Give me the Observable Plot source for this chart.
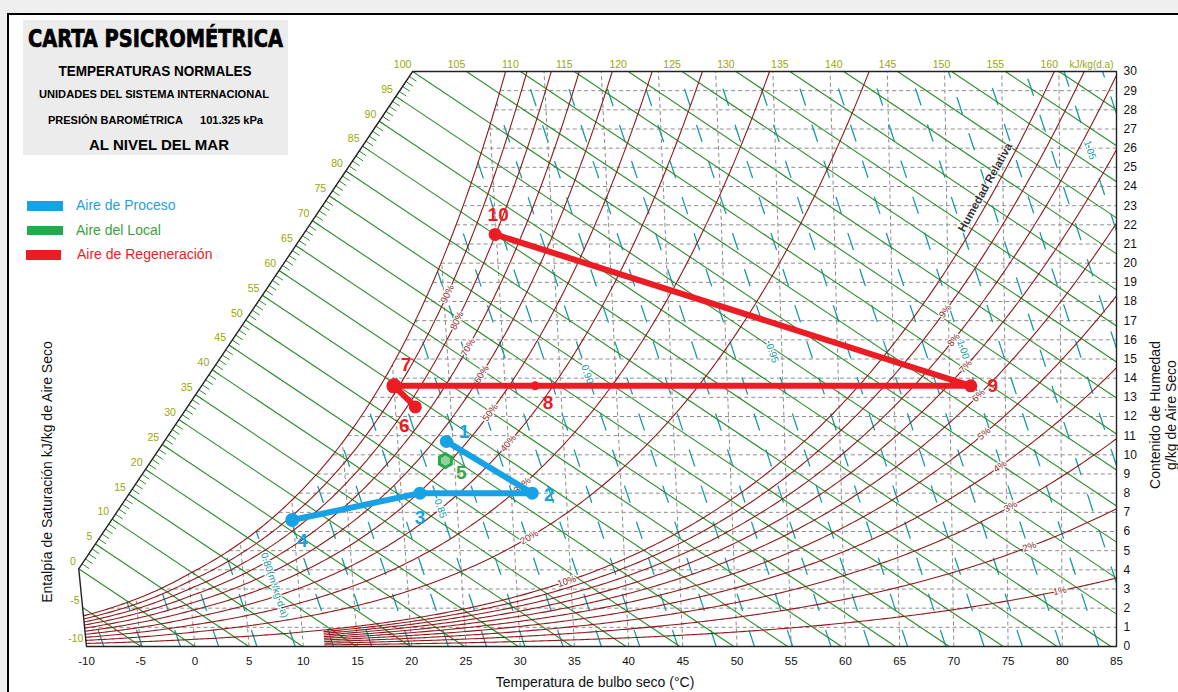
<!DOCTYPE html>
<html>
<head>
<meta charset="utf-8">
<script src="https://cdn.jsdelivr.net/npm/d3@7"></script>
<script src="https://cdn.jsdelivr.net/npm/@observablehq/plot@0.6"></script>
<style>
  body { margin: 0; background: #efefef; font-family: "Liberation Sans", Arial, sans-serif; }
  #page { position: relative; width: 1178px; height: 692px; overflow: hidden; }
  #panel { position: absolute; left: 7px; top: 13px; width: 1200px; height: 720px; background: #fff;
           border-left: 2px solid #000; border-top: 2px solid #000; }
  #chart, #deco { position: absolute; left: 0; top: 0; }
</style>
</head>
<body>
<div id="page">
  <div id="panel"></div>
  <div id="chart"></div>
  <svg id="deco" width="1178" height="692" font-family="Liberation Sans, Arial, sans-serif">
    <rect x="23" y="20" width="265" height="135" fill="#ececec"/>
    <text x="155.5" y="46.5" text-anchor="middle" font-family="DejaVu Sans Condensed" font-weight="bold" font-size="25"
          textLength="255" lengthAdjust="spacingAndGlyphs" stroke="#000" stroke-width="0.7">CARTA PSICROMÉTRICA</text>
    <text x="155" y="75.5" text-anchor="middle" font-weight="bold" font-size="15.5" textLength="193" lengthAdjust="spacingAndGlyphs">TEMPERATURAS NORMALES</text>
    <text x="154" y="97.5" text-anchor="middle" font-weight="bold" font-size="10.5" textLength="230" lengthAdjust="spacingAndGlyphs">UNIDADES DEL SISTEMA INTERNACIONAL</text>
    <text x="48" y="123.5" font-weight="bold" font-size="10.5" textLength="135" lengthAdjust="spacingAndGlyphs">PRESIÓN BAROMÉTRICA</text>
    <text x="200" y="123.5" font-weight="bold" font-size="10.5" textLength="63" lengthAdjust="spacingAndGlyphs">101.325 kPa</text>
    <text x="159" y="150" text-anchor="middle" font-weight="bold" font-size="15" textLength="140" lengthAdjust="spacingAndGlyphs">AL NIVEL DEL MAR</text>

    <rect x="27" y="201" width="36" height="10" fill="#17a2e6"/>
    <text x="76" y="210" font-size="14" fill="#1fa0e0">Aire de Proceso</text>
    <rect x="27" y="226" width="36" height="9" fill="#22aa4c"/>
    <text x="76" y="235" font-size="14" fill="#3aa33a">Aire del Local</text>
    <rect x="26" y="250" width="35" height="10" fill="#ec1c24"/>
    <text x="77" y="259" font-size="14" fill="#ec1c24">Aire de Regeneración</text>

    <text transform="translate(52,472) rotate(-90)" text-anchor="middle" font-size="14" fill="#111">Entalpía de Saturación kJ/kg de Aire Seco</text>
    <text transform="translate(1160,415) rotate(-90)" text-anchor="middle" font-size="14" fill="#111">Contenido de Humedad</text>
    <text transform="translate(1176,415) rotate(-90)" text-anchor="middle" font-size="14" fill="#111">g/kg de Aire Seco</text>
    <text x="595" y="687" text-anchor="middle" font-size="14" fill="#111">Temperatura de bulbo seco (°C)</text>
  </svg>
</div>
<script>
// ---------- chart data ----------
const dryBulbTicks = d3.range(-10, 90, 5);           // °C, bottom scale
const humidityTicks = d3.range(0, 31, 1);           // g/kg, right scale
const isothermGrid = d3.range(-5, 85, 5);           // dashed dry-bulb lines
const humidityGrid = d3.range(1, 30, 1);            // dashed humidity lines
const enthalpyLines = d3.range(-10, 165, 5);        // kJ/kg
const enthalpyMinor = d3.range(1, 100, 1);          // kJ/kg scale ticks
const rhHigh = [100, 90, 80, 70, 60, 50, 40, 30, 20, 10];  // % RH from -10 °C
const rhLow = [9, 8, 7, 6, 5, 4, 3, 2, 1];                 // % RH from 12 °C
const volumeLines = d3.range(75, 107).map(d => d / 100);   // m³/kg
const volumeLabels = [0.80, 0.85, 0.90, 0.95, 1.00, 1.05];
const volumeLabelAt = [3.2, 7.2, 14.2, 15.3, 15.5, 25.9];   // g/kg where the label sits
const rhHighLabels = [90, 80, 70, 60, 50, 40, 30, 20, 10];
const rhHighLabelAt = [18.4, 17.0, 15.6, 14.2, 12.2, 10.6, 8.4, 5.7, 3.4];
const rhLowLabels = [9, 8, 7, 6, 5, 4, 3, 2, 1];
const rhLowLabelAt = [17.5, 16.0, 14.6, 13.1, 11.1, 9.4, 7.3, 5.2, 2.9];

// process states: dry bulb (°C) and humidity ratio (g/kg)
const procesoId = ["1", "2", "3", "4"];
const procesoT = [24.4, 31.9, 21.7, 9.9];
const procesoW = [10.7, 8.0, 8.0, 6.6];
const localId = ["5"];
const localT = [24.2];
const localW = [9.7];
const regenId = ["6", "7", "8", "9", "10"];
const regenT = [21.8, 20.0, 32.7, 71.9, 29.9];
const regenW = [12.5, 13.6, 13.6, 13.6, 21.5];

// ---------- psychrometrics (101.325 kPa) ----------
const P = 101.325;
function psat(T) { // kPa, Hyland-Wexler
  const K = T + 273.15;
  const ln = T < 0
    ? -5.6745359e3 / K + 6.3925247 - 9.677843e-3 * K + 6.2215701e-7 * K * K + 2.0747825e-9 * K ** 3 - 9.484024e-13 * K ** 4 + 4.1635019 * Math.log(K)
    : -5.8002206e3 / K + 1.3914993 - 4.8640239e-2 * K + 4.1764768e-5 * K * K - 1.4452093e-8 * K ** 3 + 6.5459673 * Math.log(K);
  return Math.exp(ln) / 1000;
}
const wAt = (T, rh) => { const p = rh / 100 * psat(T); return 621.945 * p / (P - p); };
// oblique abscissa: enthalpy minus a constant share of the latent term
const abscissa = (T, w) => 1.006 * T + w / 1000 * (1.86 * T - 159);
const enthAbscissa = (h, w) => h - 2.66 * w;
function solve(f, lo, hi) { for (let i = 0; i < 60; i++) { const m = (lo + hi) / 2; if (f(m) > 0) hi = m; else lo = m; } return (lo + hi) / 2; }
const tSat = w => solve(T => wAt(T, 100) - w, -40, 100);

// ---------- layout ----------
const W = 1178, H = 692, mL = 86, mR = 62, mT = 71, mB = 46;
const xMin = abscissa(-10, 0), xMax = abscissa(85, 0);
const kx = (W - mL - mR) / (xMax - xMin), ky = (H - mT - mB) / 30;
const angle = (dX, dW) => Math.atan2(-dW * ky, dX * kx) * 180 / Math.PI;

// ---------- derived geometry ----------
const wVertex = (0 + 10.06) / 2.4824;               // h = 0 on the -10 °C isotherm
const topCorner = enthAbscissa(100, 30);
const boundary = h => { const w = wVertex + (30 - wVertex) * h / 100; return {x: enthAbscissa(h, w), y: w}; };

const isoLinks = isothermGrid.map(T => { const w = Math.min(wAt(T, 100), 30); return {x1: abscissa(T, 0), y1: 0, x2: abscissa(T, w), y2: w}; });
const humLinks = humidityGrid.map(w => ({x1: abscissa(Math.max(tSat(w), -10), w), y1: w, x2: xMax, y2: w}));

const enthLinks = enthalpyLines.map(h => {
  let s;
  if (h <= 0) { const w = (h + 10.06) / 2.4824; s = {x: abscissa(-10, w), y: w}; }
  else if (h <= 100) s = boundary(h);
  else s = {x: enthAbscissa(h, 30), y: 30};
  let e = h <= xMax ? {x: h, y: 0} : {x: xMax, y: (h - xMax) / 2.66};
  return {h, x1: s.x, y1: s.y, x2: e.x, y2: e.y};
}).filter(d => d.y2 < 30 && d.x1 < xMax);
const enthTicks = enthalpyMinor.map(h => { const b = boundary(h); const dw = 0.25; return {x1: b.x, y1: b.y, x2: b.x + 2.66 * dw, y2: b.y - dw}; });

function rhCurve(rh, T0) {
  const pts = [], n = Math.round((85 - T0) / 0.25);
  for (let i = 0; i <= n; i++) {
    const T = T0 + i * 0.25, w = wAt(T, rh);
    if (w >= 30) { const Tc = solve(t => wAt(t, rh) - 30, T - 0.25, T); pts.push({rh, x: abscissa(Tc, 30), y: 30}); break; }
    pts.push({rh, x: abscissa(T, w), y: w});
  }
  return pts;
}
const rhPts = [...rhHigh.map(r => rhCurve(r, -10)), ...rhLow.map(r => rhCurve(r, 12))].flat();

function rhLabel(r, w) {
  const T = solve(t => wAt(t, r) - w, -10, 100);
  const d = 0.3, a = angle(abscissa(T + d, wAt(T + d, r)) - abscissa(T - d, wAt(T - d, r)), wAt(T + d, r) - wAt(T - d, r));
  return {text: r + "%", x: abscissa(T, w), y: w, a};
}
const rhLabelData = [...rhHighLabels.map((r, i) => rhLabel(r, rhHighLabelAt[i])), ...rhLowLabels.map((r, i) => rhLabel(r, rhLowLabelAt[i]))];

const vT = (v, w) => v * P / (0.287042 * (1 + 1.607858 * w / 1000)) - 273.15;
function volumeLine(v) {
  let w0 = 0;
  if (vT(v, 0) > 85) w0 = (v * P / (0.287042 * 358.15) - 1) / 1.607858 * 1000;
  if (w0 >= 30) return [];
  const f = w => w - wAt(vT(v, w), 100);
  const w1 = f(30) <= 0 ? 30 : solve(f, w0, 30);
  return d3.range(41).map(i => { const w = w0 + (w1 - w0) * i / 40; return {v, x: abscissa(vT(v, w), w), y: w}; });
}
const volPts = volumeLines.map(volumeLine).flat();
const volLabelData = volumeLabels.map((v, i) => {
  const w = volumeLabelAt[i], d = 0.3;
  const a = angle(abscissa(vT(v, w - d), w - d) - abscissa(vT(v, w + d), w + d), -2 * d);
  return {text: v === 0.80 ? "0.80(m³/kg d.a)" : v.toFixed(2), x: abscissa(vT(v, w), w), y: w, a};
});

const framePts = [
  {x: abscissa(-10, 0), y: 0}, {x: abscissa(-10, wVertex), y: wVertex}, {x: topCorner, y: 30},
  {x: xMax, y: 30}, {x: xMax, y: 0}, {x: abscissa(-10, 0), y: 0}
];

const enthLabelData = [
  ...[-10, -5].map(h => { const w = (h + 10.06) / 2.4824; return {h, x: abscissa(-10, w), y: w}; }),
  ...d3.range(0, 100, 5).map(h => ({h, ...boundary(h)}))
];
const enthTopData = d3.range(100, 165, 5).map(h => ({h, x: enthAbscissa(h, 30), y: 30}));

// 10 % curve carries the family caption
const hrAnchor = rhLabel(10, 23.8);

const proceso = procesoId.map((id, i) => ({id, x: abscissa(procesoT[i], procesoW[i]), y: procesoW[i]}));
const local = localId.map((id, i) => ({id, x: abscissa(localT[i], localW[i]), y: localW[i]}));
const regen = regenId.map((id, i) => ({id, x: abscissa(regenT[i], regenW[i]), y: regenW[i]}));

const labelOffset = {"1": [18, -10], "2": [17, 2], "3": [0, 25], "4": [10, 21], "5": [16, 12],
  "6": [-11, 19], "7": [12, -21], "8": [13, 17], "9": [22, 0], "10": [3, -20]};
const dotRadius = {"4": 7, "7": 7.5, "8": 4.5};
const BLUE = "#17a2e6", GREEN = "#22aa4c", RED = "#ec1c24";

const idLabels = (data, color) => data.map(d => Plot.text([d], {
  x: "x", y: "y", text: "id", dx: labelOffset[d.id][0], dy: labelOffset[d.id][1],
  fill: color, fontSize: 19, fontWeight: "bold"
}));
const stateDots = (data, color) => data.map(d => Plot.dot([d], {x: "x", y: "y", r: dotRadius[d.id] || 6.5, fill: color}));

const chart = Plot.plot({
  width: W, height: H, marginLeft: mL, marginRight: mR, marginTop: mT, marginBottom: mB,
  x: {domain: [xMin, xMax], axis: null},
  y: {domain: [0, 30], axis: null},
  style: {background: "none", fontFamily: "Liberation Sans, Arial, sans-serif"},
  marks: [
    Plot.link(isoLinks, {x1: "x1", y1: "y1", x2: "x2", y2: "y2", stroke: "#8c8c8c", strokeWidth: 1, strokeDasharray: "4,3"}),
    Plot.link(humLinks, {x1: "x1", y1: "y1", x2: "x2", y2: "y2", stroke: "#8c8c8c", strokeWidth: 1, strokeDasharray: "4,3"}),
    Plot.line(volPts, {x: "x", y: "y", z: "v", stroke: "#1a9aa2", strokeWidth: 1.3, strokeDasharray: "17,21"}),
    Plot.link(enthLinks, {x1: "x1", y1: "y1", x2: "x2", y2: "y2", stroke: "#2c8c2c", strokeWidth: 1.1}),
    Plot.link(enthTicks, {x1: "x1", y1: "y1", x2: "x2", y2: "y2", stroke: "#2c8c2c", strokeWidth: 1}),
    Plot.line(rhPts, {x: "x", y: "y", z: "rh", stroke: "#8e1a1a", strokeWidth: 1.1}),
    Plot.line(framePts, {x: "x", y: "y", stroke: "#222", strokeWidth: 1.4}),

    Plot.text(rhLabelData, {x: "x", y: "y", text: "text", rotate: "a", fontSize: 9.5, fill: "#8a2a2a", stroke: "white", strokeWidth: 2.5}),
    Plot.text(volLabelData, {x: "x", y: "y", text: "text", rotate: "a", fontSize: 10, fill: "#1a9aa2", stroke: "white", strokeWidth: 2.5}),
    Plot.text([hrAnchor], {x: "x", y: "y", text: () => "Humedad Relativa", rotate: "a", dx: -9, dy: -3, fontSize: 11.5, fontWeight: "bold", fill: "#333", stroke: "white", strokeWidth: 2}),

    Plot.text(enthLabelData, {x: "x", y: "y", text: d => String(d.h), textAnchor: "end", dx: -3, dy: -7, fontSize: 10.5, fill: "#98a800"}),
    Plot.text(enthTopData, {x: "x", y: "y", text: d => String(d.h), dx: -10, dy: -7, fontSize: 10.5, fill: "#98a800"}),
    Plot.text([{x: xMax, y: 30}], {x: "x", y: "y", text: () => "kJ/kg(d.a)", textAnchor: "end", dx: -3, dy: -7, fontSize: 10, fill: "#98a800"}),

    Plot.text(dryBulbTicks, {x: t => abscissa(t, 0), y: () => 0, text: t => String(t), dy: 15, fontSize: 11.5, fill: "#111"}),
    Plot.text(humidityTicks, {x: () => xMax, y: w => w, text: w => String(w), textAnchor: "start", dx: 7, fontSize: 12, fill: "#111"}),

    Plot.line(proceso, {x: "x", y: "y", stroke: BLUE, strokeWidth: 6, strokeLinejoin: "round"}),
    Plot.line(regen, {x: "x", y: "y", stroke: RED, strokeWidth: 6, strokeLinejoin: "round"}),
    ...stateDots(proceso, BLUE),
    ...stateDots(regen, RED),
    Plot.dot(local, {x: "x", y: "y", r: 6, symbol: "hexagon", fill: "#8fd39a", stroke: GREEN, strokeWidth: 3}),
    ...idLabels(proceso, BLUE),
    ...idLabels(local, "#35a845"),
    ...idLabels(regen, RED)
  ]
});
document.getElementById("chart").appendChild(chart);
</script>
</body>
</html>
